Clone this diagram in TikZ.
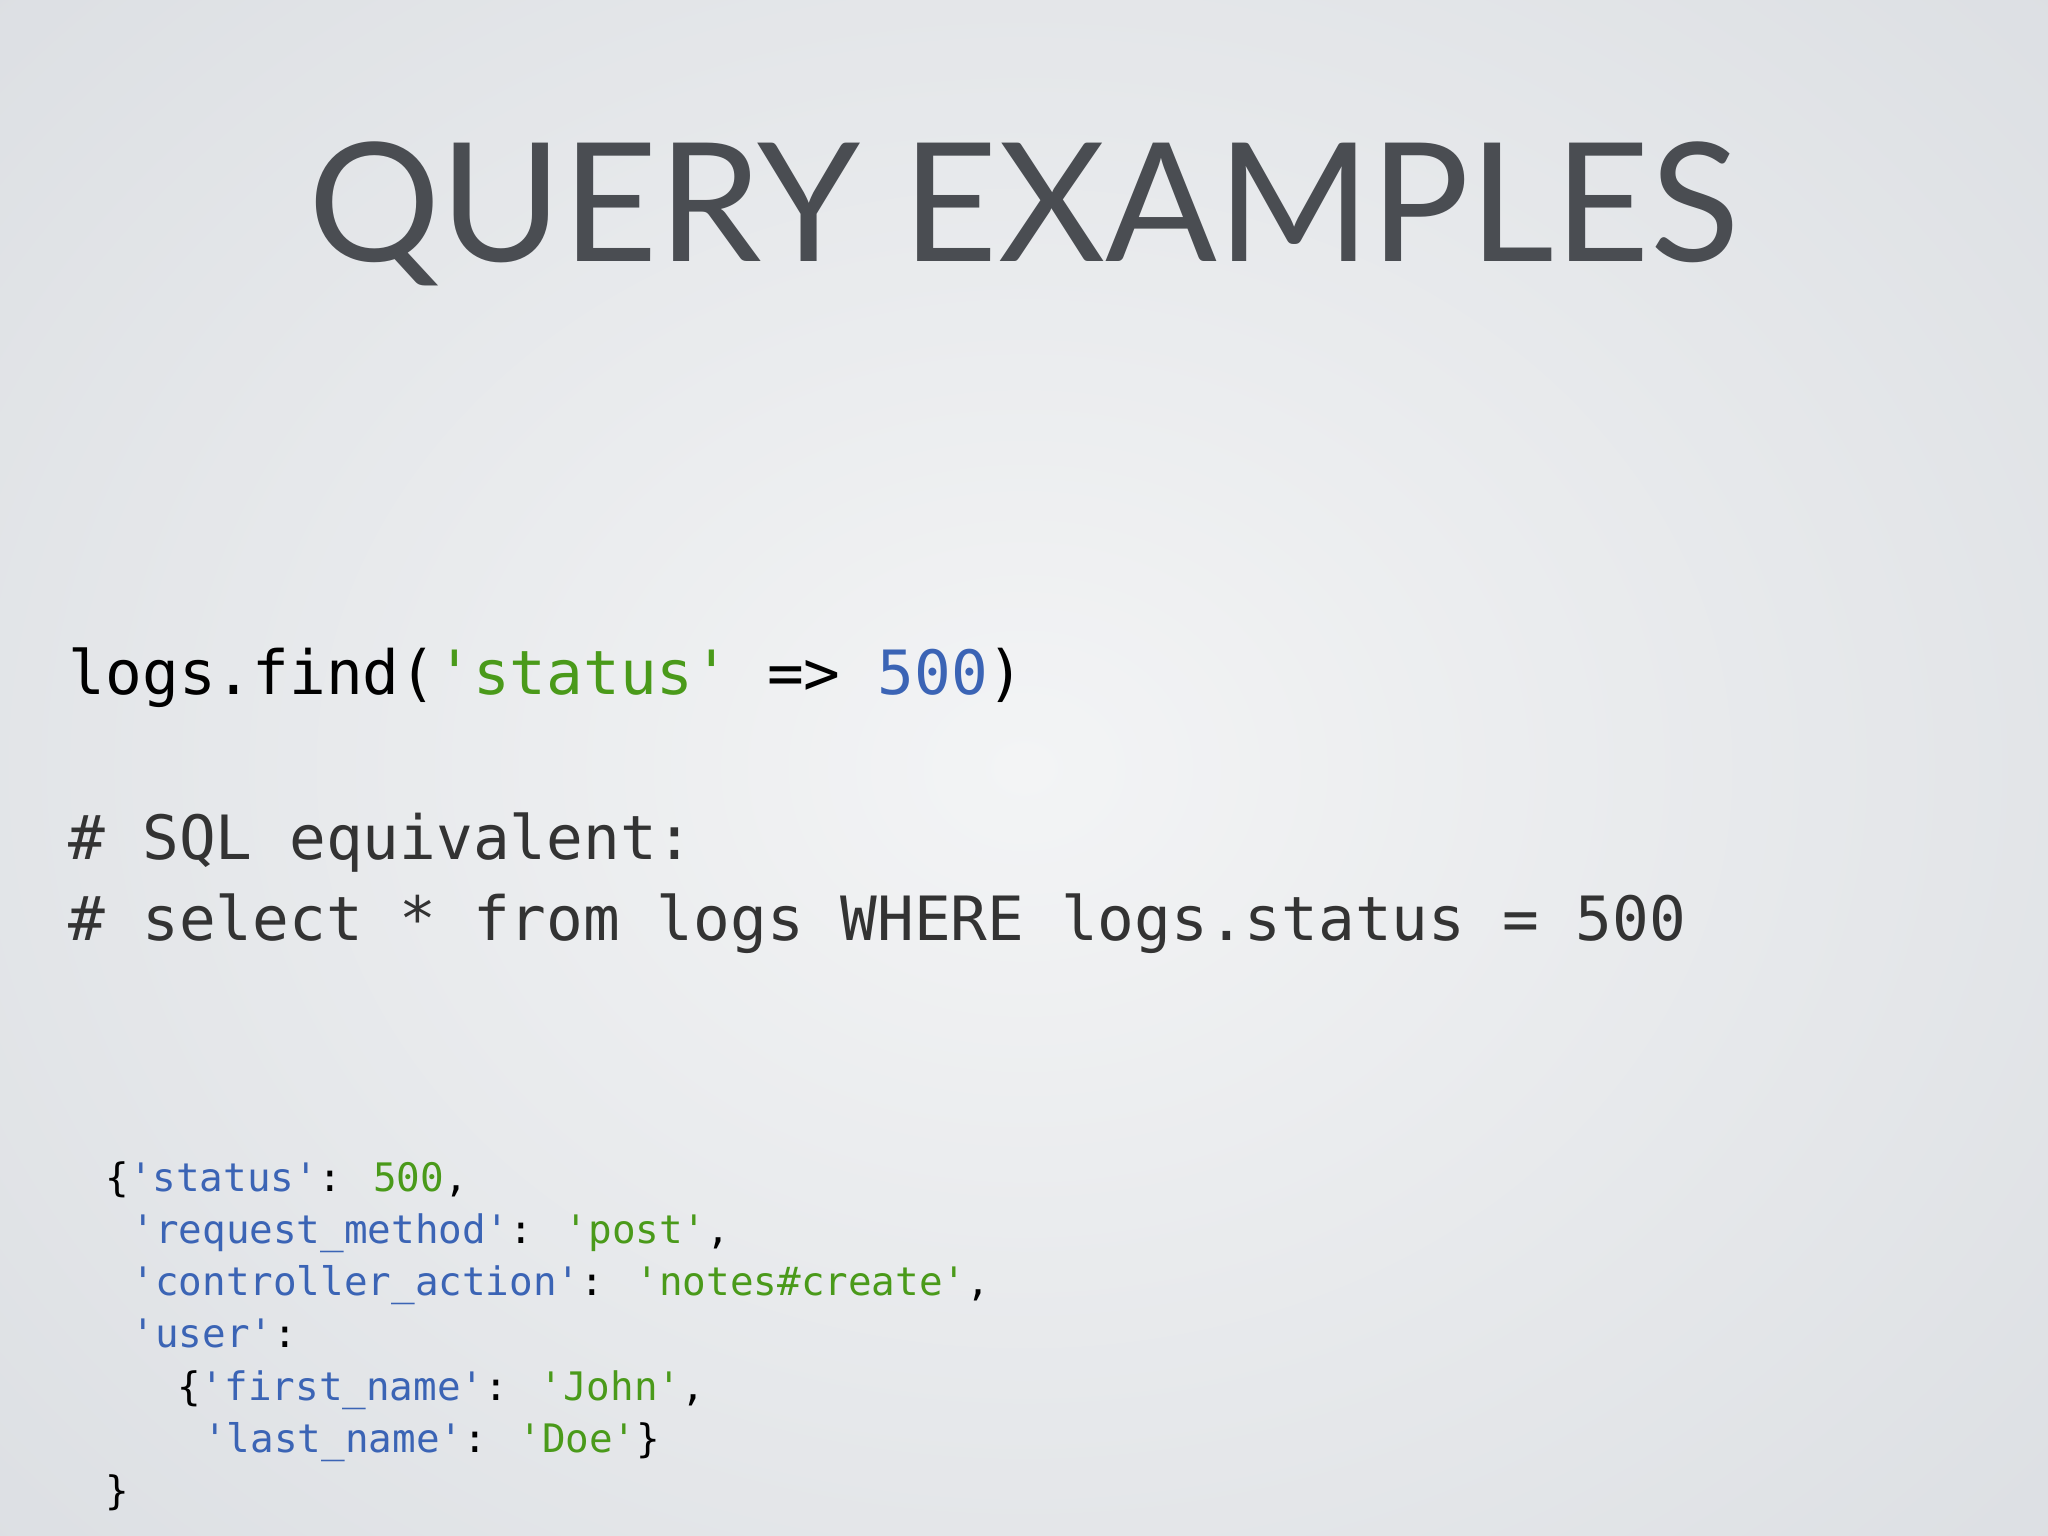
\documentclass[tikz,border=0pt]{standalone}
\usepackage{fontspec}
\usepackage{xcolor}
\usetikzlibrary{positioning}
\setmainfont{Lato}
\newfontfamily\codefont{DejaVu Sans Mono}
\definecolor{titlegray}{HTML}{4A4D52}
\definecolor{keyblue}{HTML}{3B64B5}
\definecolor{valgreen}{HTML}{4A9A1A}
\definecolor{bgcenter}{HTML}{F3F4F5}
\definecolor{bgedge}{HTML}{DCDFE3}

\begin{document}
\begin{tikzpicture}[x=1cm, y=1cm]
    % Define styles
    \tikzset{
        title/.style={font=\fontsize{36}{44}\selectfont, text=titlegray, anchor=base},
        bigcode/.style={font=\codefont\fontsize{13.3}{16}\selectfont, text=black, anchor=base west, inner sep=0pt},
        smallcode/.style={font=\codefont\fontsize{8.55}{10}\selectfont, text=black, anchor=base west, inner sep=0pt}
    }

    % Background
    \useasboundingbox (0,0) rectangle (15.68,-11.76);
    \shade[inner color=bgcenter, outer color=bgedge] (-3,3) rectangle (18.68,-14.76);

    % Title
    \node[title] (heading) at (7.84,-2.0) {QUERY EXAMPLES};

    % Query
    \node[bigcode] (query) at (0.52,-5.32) {logs.find(\textcolor{valgreen}{'status'} => \textcolor{keyblue}{500})};
    \node[bigcode, text=black!80] (sqlone) at (0.52,-6.58) {\# SQL equivalent:};
    \node[bigcode, text=black!80] (sqltwo) at (0.52,-7.20) {\# select * from logs WHERE logs.status = 500};

    % Document
    \node[smallcode] (docone) at (0.80,-9.12) {\{\textcolor{keyblue}{'status'}: \textcolor{valgreen}{500},};
    \node[smallcode] (doctwo) at (1.00,-9.52) {\textcolor{keyblue}{'request\_method'}: \textcolor{valgreen}{'post'},};
    \node[smallcode] (docthree) at (1.00,-9.92) {\textcolor{keyblue}{'controller\_action'}: \textcolor{valgreen}{'notes\#create'},};
    \node[smallcode] (docfour) at (1.00,-10.32) {\textcolor{keyblue}{'user'}:};
    \node[smallcode] (docfive) at (1.35,-10.72) {\{\textcolor{keyblue}{'first\_name'}: \textcolor{valgreen}{'John'},};
    \node[smallcode] (docsix) at (1.55,-11.12) {\textcolor{keyblue}{'last\_name'}: \textcolor{valgreen}{'Doe'}\}};
    \node[smallcode] (docseven) at (0.80,-11.52) {\}};
\end{tikzpicture}
\end{document}
